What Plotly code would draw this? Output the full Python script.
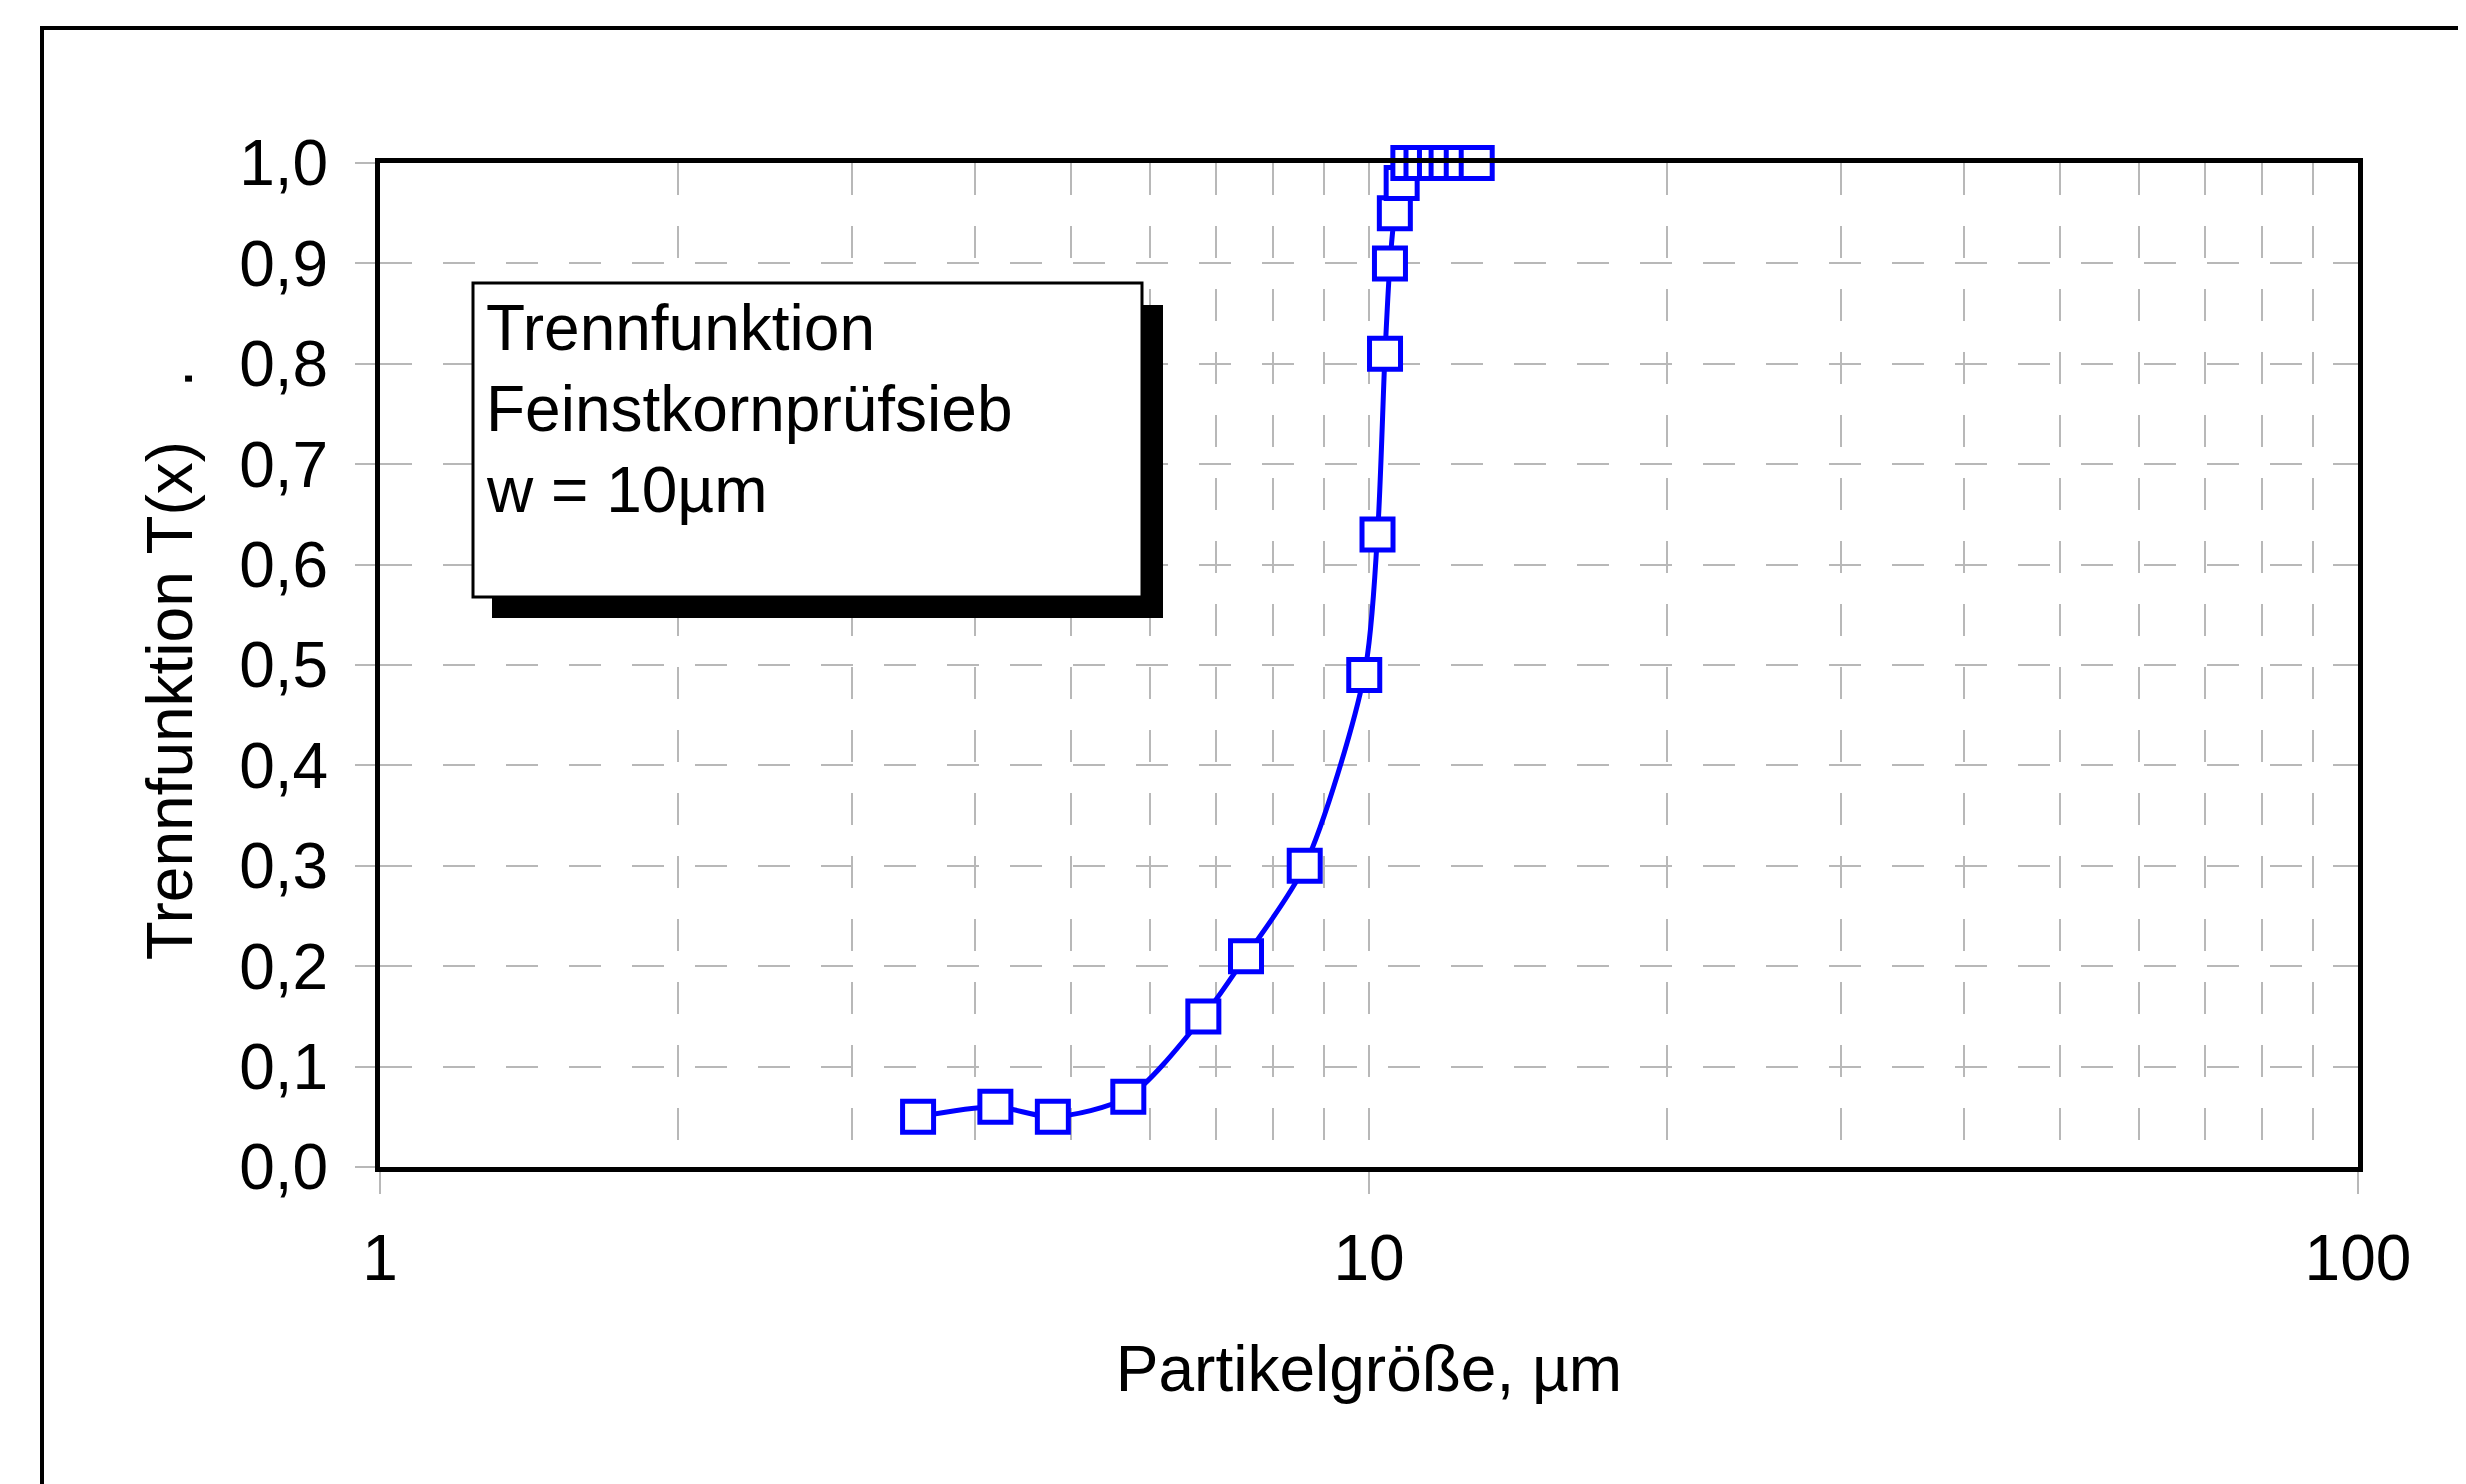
import plotly.graph_objects as go

# ---- data ----
particle_size_um = [3.50, 4.19, 4.79, 5.71, 6.80, 7.51, 8.61, 9.89, 10.20, 10.38,
                    10.50, 10.62, 10.79, 10.96, 11.30, 11.66, 11.98, 12.41, 12.85]
trennfunktion = [0.05, 0.06, 0.05, 0.07, 0.15, 0.21, 0.30, 0.49, 0.63, 0.81,
                 0.90, 0.95, 0.98, 1.00, 1.00, 1.00, 1.00, 1.00, 1.00]
x_tickvals = [1, 10, 100]
x_ticktext = ["1", "10", "100"]
box_lines = ["Trennfunktion", "Feinstkornprüfsieb", "w = 10µm"]

# ---- layout geometry (screen pixels; page body has an 8px margin) ----
OFF = 8
W, H = 2466 - OFF, 1484 - OFF
PL, PR, PT, PB = 380, 2358, 163, 1167   # plot area in screen pixels
pw, ph = PR - PL, PB - PT

def px(x):
    return (x - PL) / pw

def py(y):
    return (PB - y) / ph

FONT = "Liberation Sans, Arial, sans-serif"
FS = 64
GRID = "#b8b8b8"
LINE_STEP = 81

fig = go.Figure()
fig.add_trace(go.Scatter(
    x=particle_size_um, y=trennfunktion,
    mode="lines+markers",
    line=dict(color="#0000ff", width=5, shape="spline", smoothing=0.8),
    marker=dict(symbol="square", size=31, color="white",
                line=dict(color="#0000ff", width=5)),
    cliponaxis=False,
    showlegend=False,
))

shapes = [
    # outer frame (cut off at right/bottom)
    dict(type="rect", xref="paper", yref="paper",
         x0=px(42), x1=px(2540), y0=py(1560), y1=py(28),
         line=dict(color="black", width=4), fillcolor="rgba(0,0,0,0)", layer="above"),
    # text box shadow
    dict(type="rect", xref="paper", yref="paper",
         x0=px(492), x1=px(1163), y0=py(618), y1=py(305),
         line=dict(width=0), fillcolor="black", layer="above"),
    # text box
    dict(type="rect", xref="paper", yref="paper",
         x0=px(473), x1=px(1142), y0=py(597), y1=py(283),
         line=dict(color="black", width=3), fillcolor="white", layer="above"),
]

annotations = [
    dict(xref="paper", yref="paper", x=px(484), y=py(290 + LINE_STEP * i),
         xanchor="left", yanchor="top", align="left", showarrow=False,
         text=line,
         font=dict(family=FONT, size=FS, color="black"))
    for i, line in enumerate(box_lines)
]

fig.update_layout(
    width=W, height=H,
    margin=dict(l=PL - OFF, r=W - (PR - OFF), t=PT - OFF, b=H - (PB - OFF), pad=0),
    paper_bgcolor="white", plot_bgcolor="white",
    separators=",.",
    font=dict(family=FONT, size=FS, color="black"),
    shapes=shapes, annotations=annotations,
)

fig.update_xaxes(
    type="log", range=[0, 2],
    tickvals=x_tickvals, ticktext=x_ticktext,
    ticks="outside", ticklen=22, tickwidth=2, tickcolor=GRID,
    ticklabelstandoff=9,
    tickfont=dict(family=FONT, size=FS, color="black"),
    showgrid=True, gridcolor=GRID, gridwidth=2, griddash="32px,31px",
    minor=dict(dtick="D1", showgrid=True, gridcolor=GRID, gridwidth=2,
               griddash="32px,31px", ticks=""),
    showline=True, linecolor="black", linewidth=5, mirror=True,
    zeroline=False,
    title=dict(text="Partikelgröße, µm", standoff=55,
               font=dict(family=FONT, size=FS, color="black")),
)

fig.update_yaxes(
    range=[0, 1], dtick=0.1, tickformat=".1f",
    ticks="outside", ticklen=20, tickwidth=2, tickcolor=GRID,
    ticklabelstandoff=14,
    tickfont=dict(family=FONT, size=FS, color="black"),
    showgrid=True, gridcolor=GRID, gridwidth=2, griddash="32px,31px",
    showline=True, linecolor="black", linewidth=5, mirror=True,
    zeroline=False,
    title=dict(text="Trennfunktion T(x)\u00a0\u00a0\u00a0.", standoff=27,
               font=dict(family=FONT, size=FS, color="black")),
)

fig.write_html("out.html")
